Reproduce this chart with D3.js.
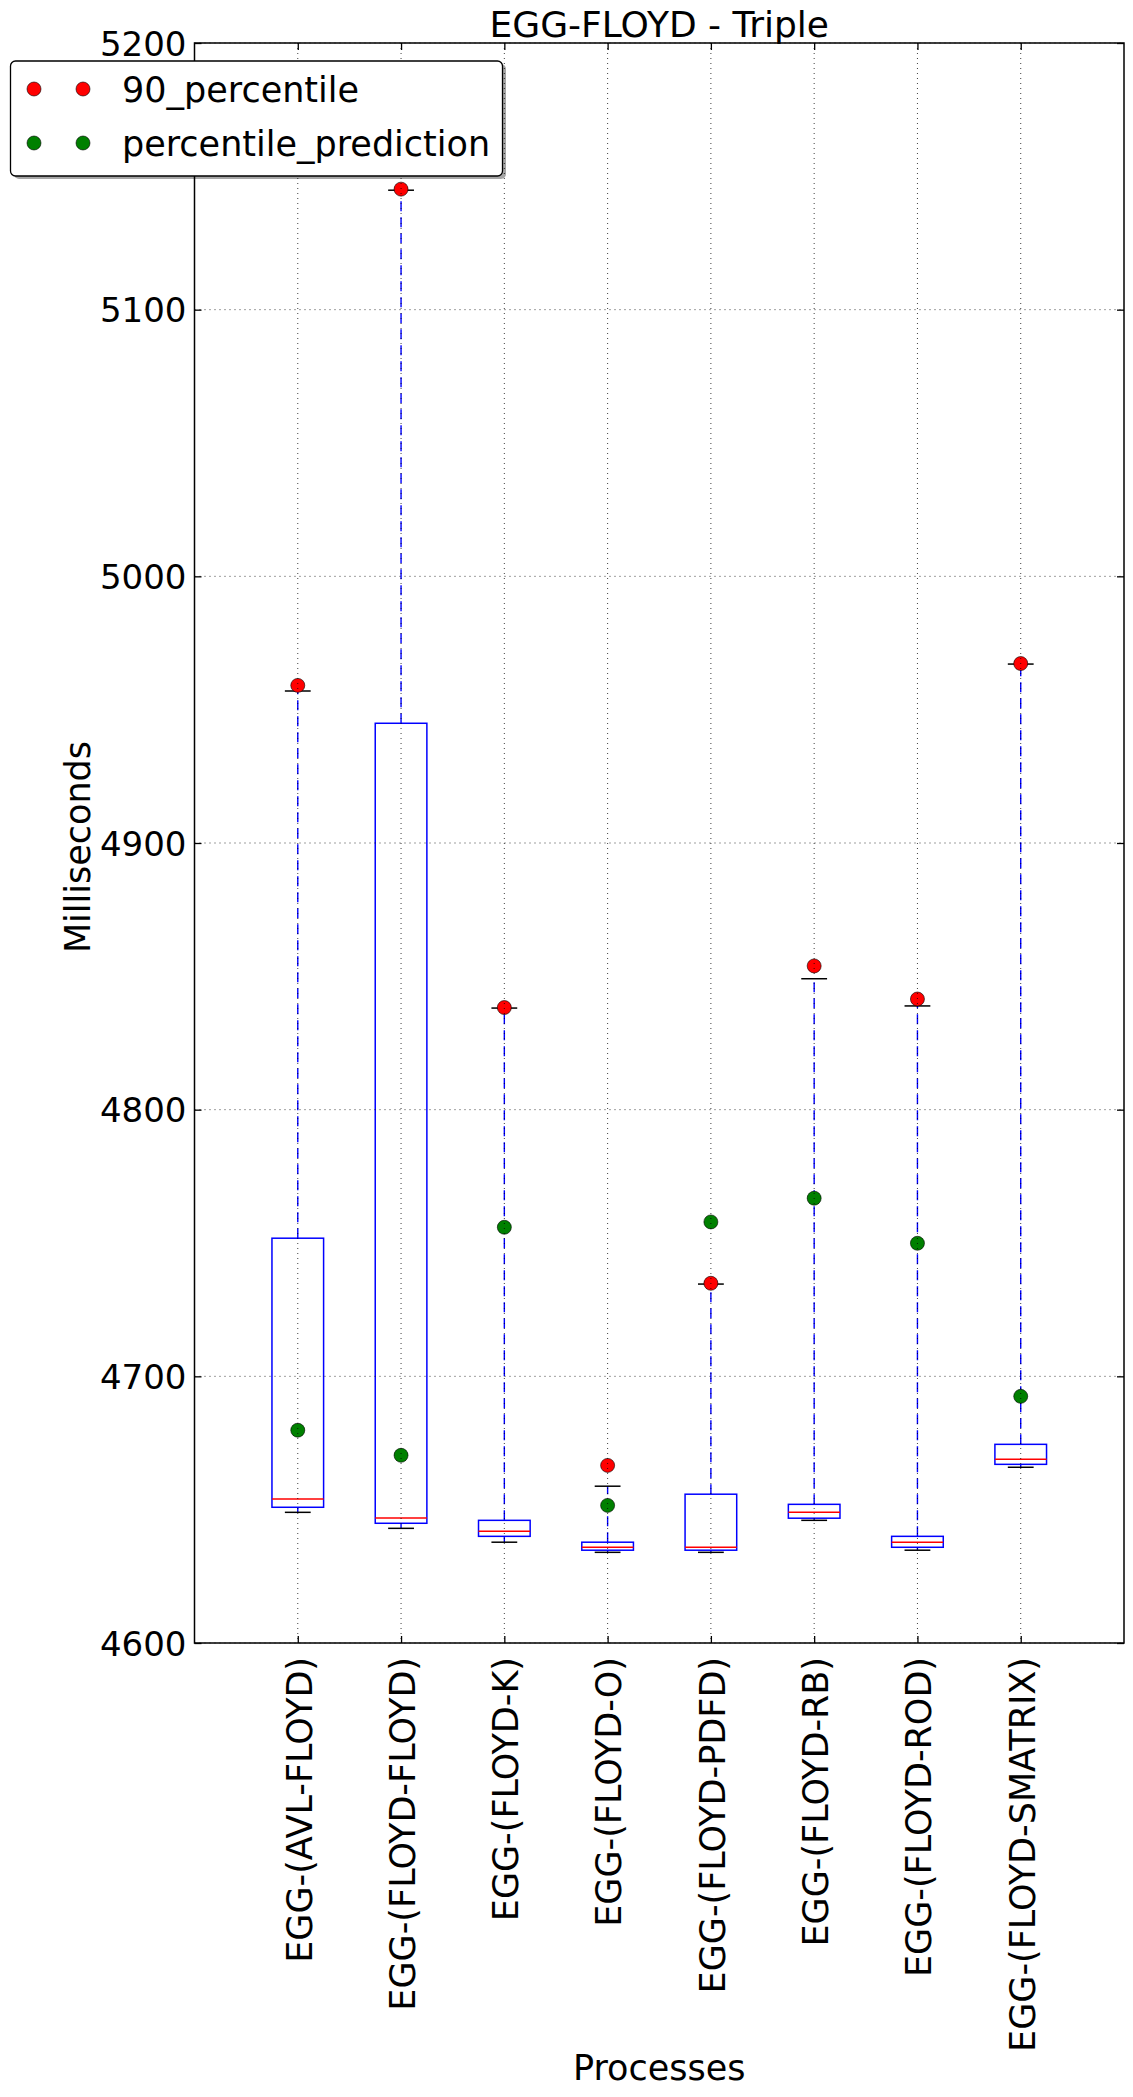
<!DOCTYPE html>
<html>
<head>
<meta charset="utf-8">
<script src="https://cdn.jsdelivr.net/npm/d3@7"></script>
<style>
  body { margin: 0; background: #fff; }
  text { font-family: "DejaVu Sans", sans-serif; fill: #000; }
</style>
</head>
<body>
<svg id="chart" width="1133" height="2097"></svg>
<script>
// values
let categories = ["EGG-(AVL-FLOYD)", "EGG-(FLOYD-FLOYD)", "EGG-(FLOYD-K)", "EGG-(FLOYD-O)",
                  "EGG-(FLOYD-PDFD)", "EGG-(FLOYD-RB)", "EGG-(FLOYD-ROD)", "EGG-(FLOYD-SMATRIX)"];
let whiskerLow  = [4649.0, 4643.0, 4637.8, 4634.0, 4634.0, 4646.0, 4634.8, 4665.9];
let q1          = [4650.9, 4644.9, 4640.0, 4634.8, 4634.8, 4646.8, 4635.9, 4667.0];
let median      = [4654.0, 4646.9, 4641.9, 4635.9, 4635.9, 4649.0, 4637.8, 4668.9];
let q3          = [4751.8, 4944.9, 4646.0, 4637.8, 4655.8, 4652.0, 4640.0, 4674.5];
let whiskerHigh = [4957.0, 5144.8, 4838.1, 4658.8, 4734.6, 4849.1, 4838.9, 4967.1];
let p90         = [4959.1, 5145.2, 4838.3, 4666.6, 4734.9, 4853.9, 4841.5, 4967.3];
let prediction  = [4679.8, 4670.4, 4755.9, 4651.6, 4757.9, 4766.8, 4749.9, 4692.5];
let yTicks = [4600, 4700, 4800, 4900, 5000, 5100, 5200];

let plotLeft = 194.5, plotRight = 1124, plotTop = 43, plotBottom = 1643;

let svg = d3.select("#chart");

let x = d3.scaleLinear().domain([0, categories.length + 1]).range([plotLeft, plotRight]);
let y = d3.scaleLinear().domain([4600, 5200]).range([plotBottom, plotTop]);

let boxes = categories.map(function(c, i){
    return {name: c, pos: i + 1, lo: whiskerLow[i], q1: q1[i], med: median[i],
            q3: q3[i], hi: whiskerHigh[i], p90: p90[i], pred: prediction[i]};
});

let halfBox = (x(1) - x(0)) * 0.25;
let halfCap = halfBox / 2;

let plot = svg.append("g");

// whiskers (blue dashed)
plot.selectAll("line.wlow").data(boxes).enter().append("line")
    .attr("x1", d => x(d.pos)).attr("x2", d => x(d.pos))
    .attr("y1", d => y(d.q1)).attr("y2", d => y(d.lo))
    .attr("stroke", "#0000ff").attr("stroke-width", 1.4).attr("stroke-dasharray", "10,6");
plot.selectAll("line.whigh").data(boxes).enter().append("line")
    .attr("x1", d => x(d.pos)).attr("x2", d => x(d.pos))
    .attr("y1", d => y(d.q3)).attr("y2", d => y(d.hi))
    .attr("stroke", "#0000ff").attr("stroke-width", 1.4).attr("stroke-dasharray", "10,6");

// caps
["lo", "hi"].forEach(function(k){
    plot.selectAll("line.cap-" + k).data(boxes).enter().append("line")
        .attr("x1", d => x(d.pos) - halfCap).attr("x2", d => x(d.pos) + halfCap)
        .attr("y1", d => y(d[k])).attr("y2", d => y(d[k]))
        .attr("stroke", "#000").attr("stroke-width", 1.5);
});

// boxes
plot.selectAll("rect.box").data(boxes).enter().append("rect")
    .attr("x", d => x(d.pos) - halfBox)
    .attr("width", halfBox * 2)
    .attr("y", d => y(d.q3))
    .attr("height", d => y(d.q1) - y(d.q3))
    .attr("fill", "none").attr("stroke", "#0000ff").attr("stroke-width", 1.5);

// medians
plot.selectAll("line.med").data(boxes).enter().append("line")
    .attr("x1", d => x(d.pos) - halfBox).attr("x2", d => x(d.pos) + halfBox)
    .attr("y1", d => y(d.med)).attr("y2", d => y(d.med))
    .attr("stroke", "#ff0000").attr("stroke-width", 1.5);

// points
plot.selectAll("circle.p90").data(boxes).enter().append("circle")
    .attr("cx", d => x(d.pos)).attr("cy", d => y(d.p90)).attr("r", 7)
    .attr("fill", "#ff0000").attr("stroke", "#000").attr("stroke-width", 0.6);
plot.selectAll("circle.pred").data(boxes).enter().append("circle")
    .attr("cx", d => x(d.pos)).attr("cy", d => y(d.pred)).attr("r", 7)
    .attr("fill", "#008000").attr("stroke", "#000").attr("stroke-width", 0.6);

// grid drawn over the marks, like the classic matplotlib style
let grid = svg.append("g").attr("stroke", "#000").attr("stroke-width", 1)
    .attr("stroke-dasharray", "1,4").attr("opacity", 0.75);
grid.selectAll("line.gx").data(boxes).enter().append("line")
    .attr("x1", d => x(d.pos)).attr("x2", d => x(d.pos))
    .attr("y1", plotTop).attr("y2", plotBottom);
grid.selectAll("line.gy").data(yTicks).enter().append("line")
    .attr("x1", plotLeft).attr("x2", plotRight)
    .attr("y1", d => y(d)).attr("y2", d => y(d));

// axes with inward ticks
let yAxis = svg.append("g").attr("transform", "translate(" + plotLeft + ",0)")
    .call(d3.axisLeft(y).tickValues(yTicks).tickFormat(d3.format("d")).tickSize(-7).tickPadding(15));
let yAxisR = svg.append("g").attr("transform", "translate(" + plotRight + ",0)")
    .call(d3.axisRight(y).tickValues(yTicks).tickSize(-7).tickFormat(""));
let xAxis = svg.append("g").attr("transform", "translate(0," + plotBottom + ")")
    .call(d3.axisBottom(x).tickValues(boxes.map(d => d.pos)).tickSize(-7)
        .tickFormat((d, i) => categories[i]));
let xAxisT = svg.append("g").attr("transform", "translate(0," + plotTop + ")")
    .call(d3.axisTop(x).tickValues(boxes.map(d => d.pos)).tickSize(-7).tickFormat(""));

[yAxis, yAxisR, xAxis, xAxisT].forEach(function(a){
    a.select(".domain").remove();
    a.selectAll(".tick line").attr("stroke", "#000").attr("stroke-width", 1.3);
});

yAxis.selectAll(".tick text")
    .attr("font-size", 34).attr("font-family", "DejaVu Sans").attr("fill", "#000")
    .attr("x", -8).attr("dy", "0.36em");

xAxis.selectAll(".tick text")
    .attr("font-size", 35).attr("font-family", "DejaVu Sans").attr("fill", "#000")
    .attr("transform", "rotate(-90)")
    .attr("text-anchor", "end")
    .attr("x", -14).attr("y", 0).attr("dy", "0.38em");

// frame
svg.append("rect")
    .attr("x", plotLeft).attr("y", plotTop)
    .attr("width", plotRight - plotLeft).attr("height", plotBottom - plotTop)
    .attr("fill", "none").attr("stroke", "#000").attr("stroke-width", 1.5);

// titles
svg.append("text").attr("x", (plotLeft + plotRight) / 2).attr("y", 37)
    .attr("text-anchor", "middle").attr("font-size", 36).text("EGG-FLOYD - Triple");
svg.append("text").attr("x", (plotLeft + plotRight) / 2).attr("y", 2080)
    .attr("text-anchor", "middle").attr("font-size", 35).text("Processes");
svg.append("text").attr("transform", "translate(90,847) rotate(-90)")
    .attr("text-anchor", "middle").attr("font-size", 35).text("Milliseconds");

// legend
let legendItems = [
    {label: "90_percentile", color: "#ff0000"},
    {label: "percentile_prediction", color: "#008000"}
];
let legend = svg.append("g");
legend.append("rect")
    .attr("x", 14).attr("y", 64).attr("width", 492).attr("height", 115).attr("rx", 5)
    .attr("fill", "#000").attr("opacity", 0.35);
legend.append("rect")
    .attr("x", 10.5).attr("y", 61).attr("width", 492).attr("height", 115).attr("rx", 5)
    .attr("fill", "#fff").attr("stroke", "#000").attr("stroke-width", 1.3);
let rows = legend.selectAll("g.row").data(legendItems).enter().append("g")
    .attr("transform", (d, i) => "translate(0," + (89 + i * 54) + ")");
rows.selectAll("circle").data(d => [d, d]).enter().append("circle")
    .attr("cx", (d, i) => i == 0 ? 34 : 83).attr("cy", 0).attr("r", 7)
    .attr("fill", d => d.color).attr("stroke", "#000").attr("stroke-width", 0.6);
rows.append("text").attr("x", 122).attr("dy", "0.36em")
    .attr("font-size", 35).text(d => d.label);
</script>
</body>
</html>
